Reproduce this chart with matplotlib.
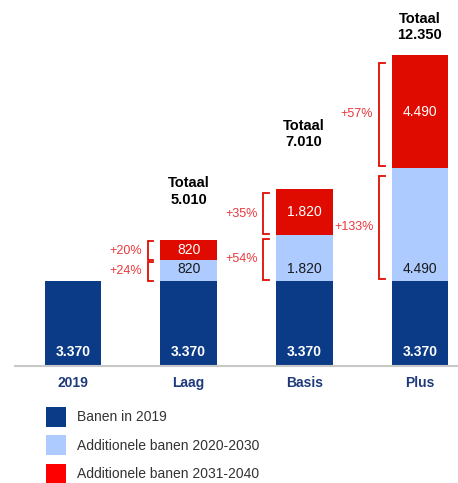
import numpy as np
import matplotlib
matplotlib.use('Agg')
from matplotlib import pyplot as plt
from matplotlib.patches import Patch

plt.rcParams['font.family'] = ['Liberation Sans', 'DejaVu Sans']

# data
categories = ['2019', 'Laag', 'Basis', 'Plus']
base = [3370, 3370, 3370, 3370]
add_2030 = [0, 820, 1820, 4490]
add_2040 = [0, 820, 1820, 4490]
totals = [None, '5.010', '7.010', '12.350']
base_labels = ['3.370', '3.370', '3.370', '3.370']
lbl_2030 = [None, '820', '1.820', '4.490']
lbl_2040 = [None, '820', '1.820', '4.490']
pct_2030 = [None, '+24%', '+54%', '+133%']
pct_2040 = [None, '+20%', '+35%', '+57%']
legend_labels = ['Banen in 2019', 'Additionele banen 2020-2030', 'Additionele banen 2031-2040']

# afstand (pt) tussen balk en "Totaal"-tekst
total_offset = [0, 24, 29, 9.5]

c_dark = '#0B3A87'
c_light = '#ADCBFF'
c_red = '#E00B00'
c_pct = '#E8383D'

fig = plt.figure(figsize=(4.58, 4.83), dpi=100)
ax = fig.add_axes([0.033, 0.2422, 0.967, 0.7578])

x = np.arange(len(categories))
w = 0.49
base = np.array(base)
add_2030 = np.array(add_2030)
add_2040 = np.array(add_2040)

ax.bar(x, base, w, color=c_dark)
ax.bar(x, add_2030, w, bottom=base, color=c_light)
ax.bar(x, add_2040, w, bottom=base + add_2030, color=c_red)

ax.set_xlim(-0.5, 3.33)
ax.set_ylim(0, 14534)

for i in range(len(categories)):
    ax.annotate(base_labels[i], (x[i], 0), xytext=(0, 10), textcoords='offset points',
                ha='center', va='center', color='white', fontsize=10, fontweight='bold')
    if lbl_2030[i] is None:
        continue
    b1 = base[i]
    t1 = base[i] + add_2030[i]
    t2 = t1 + add_2040[i]
    ax.annotate(lbl_2030[i], (x[i], b1), xytext=(0, 8.6), textcoords='offset points',
                ha='center', va='center', color='#1a1a1a', fontsize=10)
    ax.text(x[i], (t1 + t2) / 2, lbl_2040[i], ha='center', va='center',
            color='white', fontsize=10)
    ax.annotate('Totaal\n' + totals[i], (x[i], t2), xytext=(0, total_offset[i]),
                textcoords='offset points', ha='center', va='bottom', color='black',
                fontsize=10.5, fontweight='bold', linespacing=1.2)
    # haken
    bx = x[i] - 0.355
    for lo, hi, txt in [(b1, t1, pct_2030[i]), (t1, t2, pct_2040[i])]:
        seg = hi - lo
        y0 = lo + 0.02 * seg
        y1 = hi - 0.07 * seg
        ax.plot([bx + 0.05, bx, bx, bx + 0.05], [y0, y0, y1, y1], color=c_red, lw=1.3,
                solid_joinstyle='miter', clip_on=False)
        ax.annotate(txt, (bx, (y0 + y1) / 2), xytext=(-4, 0), textcoords='offset points',
                    ha='right', va='center', color=c_pct, fontsize=9)

for s in ['top', 'right', 'left']:
    ax.spines[s].set_visible(False)
ax.spines['bottom'].set_color('#C8C8C8')
ax.spines['bottom'].set_linewidth(1.5)
ax.set_yticks([])
ax.set_xticks(x)
ax.set_xticklabels(categories, fontsize=10, fontweight='bold', color='#1F3A7A')
ax.tick_params(axis='x', length=0, pad=7)

handles = [Patch(facecolor=c_dark), Patch(facecolor=c_light), Patch(facecolor='#FF0000')]
fig.legend(handles, legend_labels, loc='upper left', bbox_to_anchor=(0.1, 0.157),
           frameon=False, fontsize=10, handlelength=1.45, handleheight=1.8,
           labelspacing=0.62, handletextpad=0.8, borderpad=0, borderaxespad=0,
           labelcolor='#333333')

fig.savefig('out.png', dpi=100)
